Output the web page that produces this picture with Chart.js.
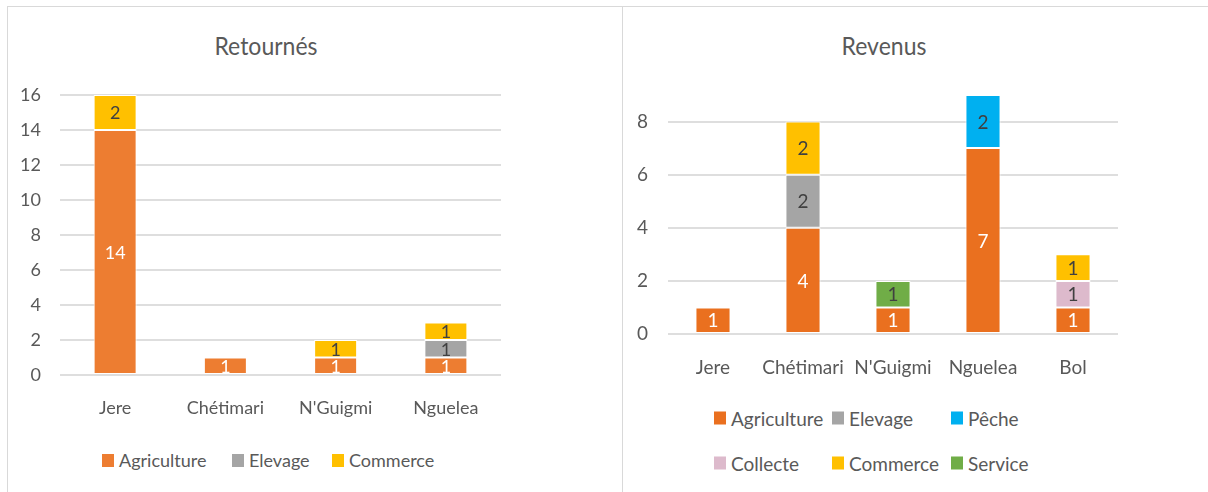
<!DOCTYPE html>
<html><head><meta charset="utf-8">
<script src="https://cdn.jsdelivr.net/npm/chart.js@4.4.0/dist/chart.umd.min.js"></script>
<style>
html,body{margin:0;padding:0;background:#fff;width:1208px;height:492px;overflow:hidden;font-family:Lato,sans-serif;}
.panel{position:absolute;border:1px solid #d9d9d9;box-sizing:border-box;}
#p1{left:7px;top:6px;width:616px;height:520px;}
#p2{left:622px;top:6px;width:620px;height:520px;}
.title{position:absolute;font-size:23px;color:#595959;transform:translate(-50%,-50%) scaleY(1.12);white-space:nowrap;}
.leg{position:absolute;color:#595959;white-space:nowrap;transform:translateY(-50%);display:flex;align-items:center;}
.leg i{display:inline-block;width:12px;height:13px;margin-right:5px;}
canvas{position:absolute;}
</style></head>
<body>
<div class="panel" id="p1"></div>
<div class="panel" id="p2"></div>
<div class="title" style="left:266px;top:45px">Retournés</div>
<div class="title" style="left:884px;top:45px">Revenus</div>
<div style="position:absolute;left:0;top:0;width:622px;height:430px"><canvas id="c1"></canvas></div>
<div style="position:absolute;left:622px;top:0;width:586px;height:400px"><canvas id="c2"></canvas></div>
<div id="legs"></div>
<script>
// ---- data ----
const catsL = ['Jere', 'Chétimari', "N'Guigmi", 'Nguelea'];
const agriL = [14, 1, 1, 1];
const elevL = [null, null, null, 1];
const commL = [2, null, 1, 1];
const ticksL = [0, 2, 4, 6, 8, 10, 12, 14, 16];

const catsR = ['Jere', 'Chétimari', "N'Guigmi", 'Nguelea', 'Bol'];
const agriR = [1, 4, 1, 7, 1];
const elevR = [null, 2, null, null, null];
const pecheR = [null, null, null, 2, null];
const collR = [null, null, null, null, 1];
const commR = [null, 2, null, null, 1];
const servR = [null, null, 1, null, null];
const ticksR = [0, 2, 4, 6, 8];

Chart.defaults.font.family = 'Lato';
Chart.defaults.color = '#595959';

const labelPlugin = {
  id: 'barLabels',
  afterDatasetsDraw(chart, args, opts) {
    const ctx = chart.ctx;
    ctx.save();
    ctx.font = opts.size + 'px Lato';
    ctx.textAlign = 'center';
    ctx.textBaseline = 'middle';
    chart.data.datasets.forEach((ds, i) => {
      const meta = chart.getDatasetMeta(i);
      meta.data.forEach((el, j) => {
        const v = ds.data[j];
        if (v === null || v === undefined) return;
        ctx.fillStyle = ds.labelColor;
        ctx.fillText(String(v), el.x, (el.y + el.base) / 2 + 1);
      });
    });
    ctx.restore();
  }
};

function ds(label, data, color, labelColor) {
  return { label, data, backgroundColor: color, borderColor: '#ffffff', borderWidth: 1,
           borderSkipped: false, labelColor, barPercentage: 0.39, categoryPercentage: 1 };
}

function makeChart(id, cats, datasets, ticks, max, pad, yW, yPad, xH, xPad, fs) {
  return new Chart(document.getElementById(id), {
    type: 'bar',
    data: { labels: cats, datasets },
    plugins: [labelPlugin],
    options: {
      responsive: true, maintainAspectRatio: false, animation: false,
      layout: { padding: pad },
      plugins: { legend: { display: false }, title: { display: false }, tooltip: { enabled: false },
                 barLabels: { size: fs } },
      scales: {
        x: { stacked: true, grid: { display: false }, border: { display: false },
             ticks: { padding: xPad, font: { size: fs }, color: '#595959', maxRotation: 0, autoSkip: false },
             afterFit(s) { s.height = xH; } },
        y: { stacked: true, min: 0, max: max,
             grid: { color: '#dedede', lineWidth: 2, drawTicks: false }, border: { display: false },
             ticks: { padding: yPad, font: { size: fs }, color: '#595959' },
             afterBuildTicks(s) { s.ticks = ticks.map(v => ({ value: v })); },
             afterFit(s) { s.width = yW; } }
      }
    }
  });
}

const dL = [
  ds('Agriculture', agriL, '#ED7D31', '#ffffff'),
  ds('Elevage', elevL, '#A5A5A5', '#404040'),
  ds('Commerce', commL, '#FFC000', '#404040')
];
const dR = [
  ds('Agriculture', agriR, '#EA701F', '#ffffff'),
  ds('Elevage', elevR, '#A5A5A5', '#404040'),
  ds('Pêche', pecheR, '#00B0F0', '#404040'),
  ds('Collecte', collR, '#DDBACC', '#404040'),
  ds('Commerce', commR, '#FFC000', '#404040'),
  ds('Service', servR, '#70AD47', '#404040')
];

makeChart('c1', catsL, dL, ticksL, 16, { left: 0, top: 95, right: 121, bottom: 0 }, 60, 19, 55, 14, 18);
makeChart('c2', catsR, dR, ticksR, 9, { left: 0, top: 95, right: 90, bottom: 0 }, 46, 20, 66, 14, 19);

// ---- HTML legends ----
const legPos = [
  { set: dL, pos: [[102, 460], [232, 460], [332, 460]], fs: 18 },
  { set: dR, pos: [[714, 418], [832, 418], [951, 418], [714, 463], [832, 463], [951, 463]], fs: 19 }
];
const legs = document.getElementById('legs');
legPos.forEach(g => {
  g.set.forEach((d, i) => {
    const el = document.createElement('div');
    el.className = 'leg';
    el.style.left = g.pos[i][0] + 'px';
    el.style.top = g.pos[i][1] + 'px';
    el.style.fontSize = g.fs + 'px';
    el.innerHTML = '<i style="background:' + d.backgroundColor + '"></i>';
    el.appendChild(document.createTextNode(d.label));
    legs.appendChild(el);
  });
});
</script>
</body></html>
